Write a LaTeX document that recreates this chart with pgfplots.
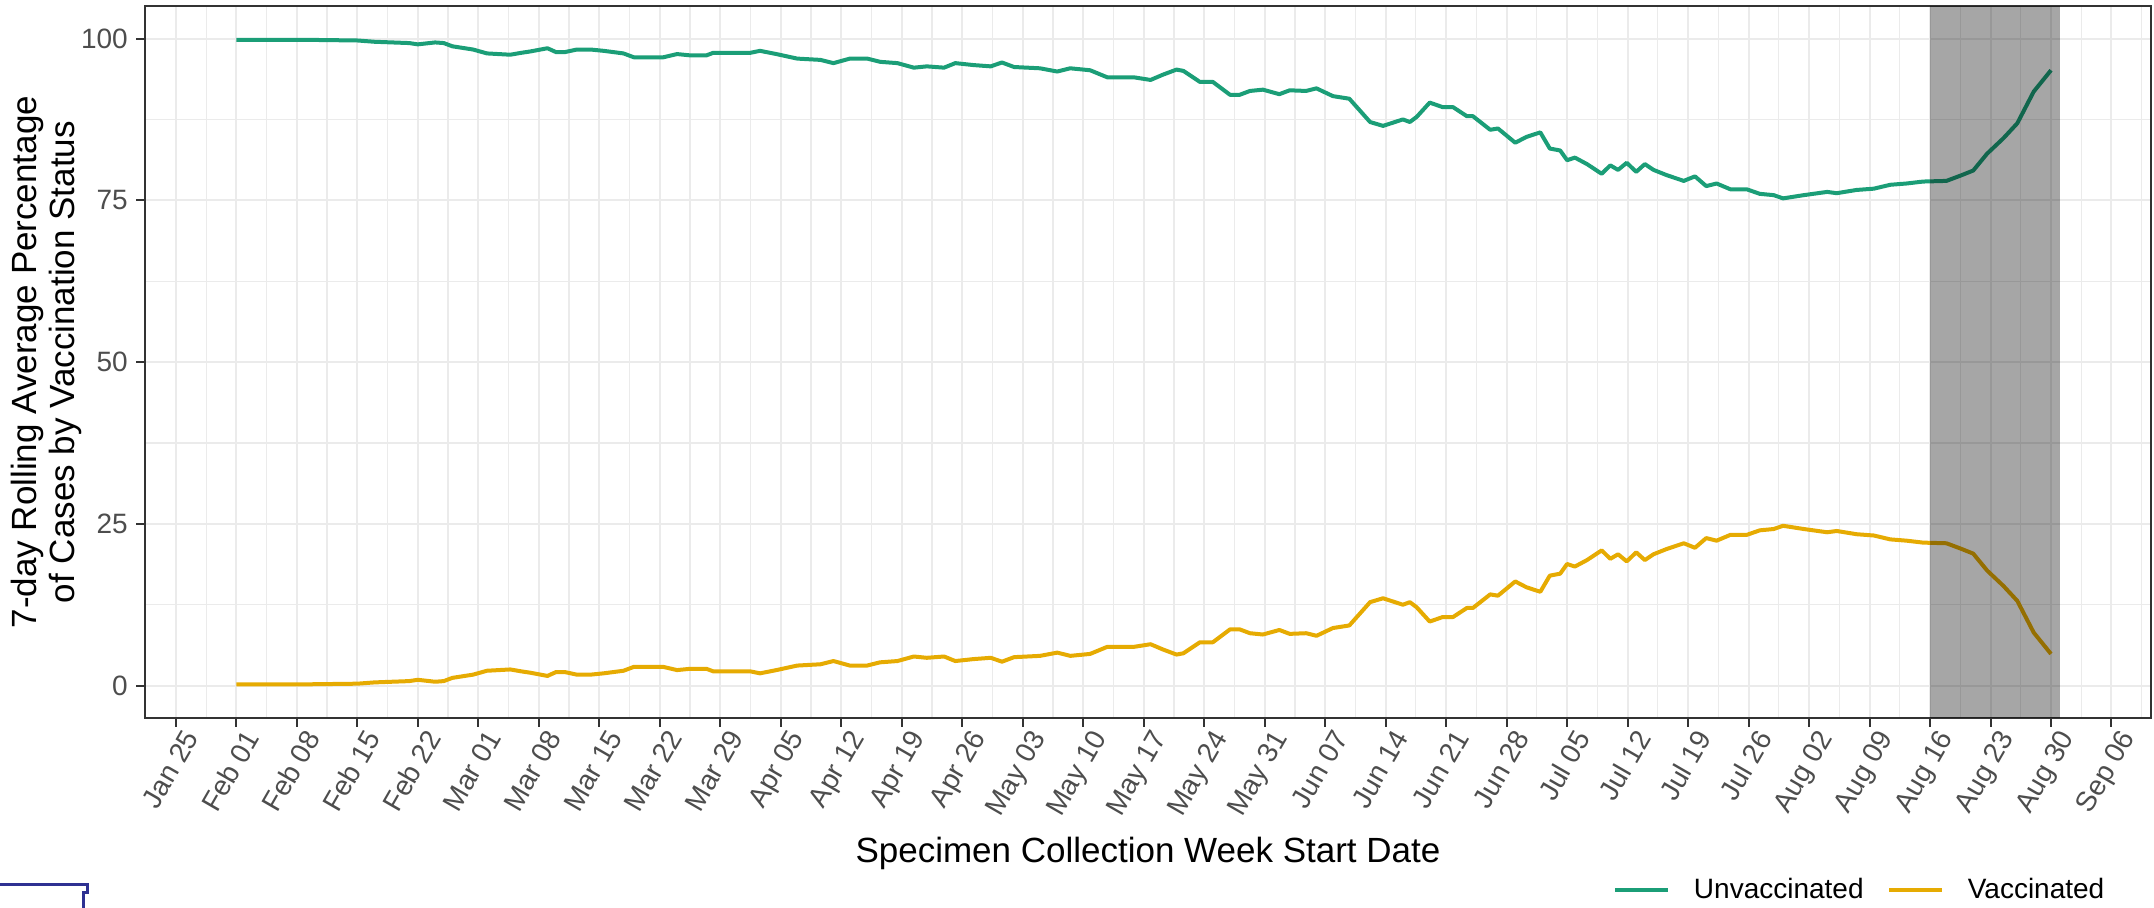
\documentclass[border=0pt]{standalone}
\usepackage{fontspec}
\setmainfont{Liberation Sans}
\usepackage{pgfplots}
\usepackage{pgfplotstable}
\pgfplotsset{compat=1.18}
\definecolor{unvac}{HTML}{1B9E77}
\definecolor{vac}{HTML}{E6AB02}
\definecolor{gridc}{HTML}{EBEBEB}
\definecolor{framec}{HTML}{333333}
\definecolor{ticklab}{HTML}{4D4D4D}
\definecolor{navyline}{HTML}{2E3192}

\pgfplotstableread{
day unvac vac
32 99.8 0.2
40 99.8 0.2
46 99.7 0.3
48 99.5 0.5
52 99.3 0.7
53 99.1 0.9
55 99.4 0.6
56 99.3 0.7
57 98.8 1.2
59.4 98.3 1.7
61 97.7 2.3
63.7 97.5 2.5
65 97.8 2.2
66 98.0 2.0
68 98.5 1.5
69 97.9 2.1
70 97.9 2.1
71.4 98.3 1.7
73 98.3 1.7
74.5 98.1 1.9
76.8 97.7 2.3
78 97.1 2.9
81.4 97.1 2.9
83 97.6 2.4
84.5 97.4 2.6
86.4 97.4 2.6
87.2 97.8 2.2
91.5 97.8 2.2
92.6 98.1 1.9
94.5 97.6 2.4
96.9 96.9 3.1
99.6 96.7 3.3
101.1 96.2 3.8
103 96.9 3.1
105 96.9 3.1
106.5 96.4 3.6
108.5 96.2 3.8
110.4 95.5 4.5
111.9 95.7 4.3
113.9 95.5 4.5
115.2 96.2 3.8
117.3 95.9 4.1
119.3 95.7 4.3
120.6 96.3 3.7
122 95.6 4.4
125 95.4 4.6
127 94.9 5.1
128.5 95.4 4.6
130.8 95.1 4.9
132.8 94.0 6.0
135.9 94.0 6.0
137.8 93.6 6.4
139.2 94.4 5.6
140.8 95.2 4.8
141.6 95.0 5.0
143.5 93.3 6.7
145 93.3 6.7
147 91.3 8.7
148.1 91.3 8.7
149.3 91.9 8.1
150.8 92.1 7.9
152.7 91.4 8.6
153.9 92.0 8.0
155.8 91.9 8.1
157 92.3 7.7
158.9 91.1 8.9
160.8 90.7 9.3
163.2 87.1 12.9
164.7 86.5 13.5
167 87.5 12.5
167.8 87.1 12.9
168.6 87.9 12.1
170.1 90.1 9.9
171.6 89.4 10.6
172.8 89.4 10.6
174.4 88.0 12.0
175.1 88.0 12.0
177.1 85.9 14.1
178 86.1 13.9
180 83.9 16.1
181.3 84.8 15.2
182.9 85.5 14.5
184 83.0 17.0
185.2 82.7 17.3
186 81.2 18.8
186.9 81.6 18.4
188.3 80.6 19.4
190 79.1 20.9
191 80.4 19.6
191.9 79.7 20.3
192.9 80.8 19.2
194 79.4 20.6
195 80.6 19.4
196 79.7 20.3
197.5 78.9 21.1
199.5 78.0 22.0
200.8 78.7 21.3
202.1 77.2 22.8
203.3 77.6 22.4
204.9 76.7 23.3
206.8 76.7 23.3
208.3 76.0 24.0
209.9 75.8 24.2
211 75.3 24.7
213.4 75.8 24.2
216.1 76.3 23.7
217.2 76.1 23.9
219.5 76.6 23.4
221.5 76.8 23.2
223.4 77.4 22.6
225.3 77.6 22.4
227.2 77.9 22.1
229.9 78.0 22.0
231.5 78.8 21.2
233 79.6 20.4
234.6 82.2 17.8
236.5 84.6 15.4
238.1 86.9 13.1
240 91.8 8.2
242 95.1 4.9
}\datatable

\begin{document}
\begin{tikzpicture}
\useasboundingbox (0,0) rectangle (1077pt,454pt);
\begin{axis}[
  at={(72.6pt,95pt)}, anchor=south west, scale only axis,
  width=1002.8pt, height=355.9pt,
  xmin=21.45, xmax=253.55, ymin=-5, ymax=105,
  axis line style={framec, line width=1pt},
  xtick={25,32,...,249},
  xticklabels={Jan 25, Feb 01, Feb 08, Feb 15, Feb 22, Mar 01, Mar 08, Mar 15, Mar 22, Mar 29, Apr 05, Apr 12, Apr 19, Apr 26, May 03, May 10, May 17, May 24, May 31, Jun 07, Jun 14, Jun 21, Jun 28, Jul 05, Jul 12, Jul 19, Jul 26, Aug 02, Aug 09, Aug 16, Aug 23, Aug 30, Sep 06},
  minor xtick={21.5,28.5,...,252.5},
  ytick={0,25,50,75,100},
  minor ytick={12.5,37.5,62.5,87.5},
  grid=both,
  major grid style={gridc, line width=1pt},
  minor grid style={gridc, line width=0.6pt},
  tick align=outside, major tick length=4.5pt, minor tick length=0pt,
  xtick pos=lower, ytick pos=lower,
  major tick style={framec, line width=1pt},
  /pgf/number format/assume math mode=true,
  tick label style={font=\fontsize{14}{16}\selectfont, text=ticklab},
  xticklabel style={rotate=60, anchor=north east, inner sep=1pt, yshift=-2pt, xshift=2.5pt},
  yticklabel style={inner sep=1pt, xshift=-3pt},
  xlabel={Specimen Collection Week Start Date},
  xlabel style={font=\fontsize{17.5}{20}\selectfont, at={(axis description cs:0.5,0)}, anchor=center, yshift=-67.5pt},
  ylabel={7-day Rolling Average Percentage\\of Cases by Vaccination Status},
  ylabel style={align=center, font=\fontsize{17.5}{19}\selectfont, yshift=-5pt},
  legend columns=2,
  legend style={draw=none, fill=none, at={(axis description cs:0.979,-0.2416)}, anchor=east, inner sep=0pt,
    font=\fontsize{14}{16}\selectfont, /tikz/every even column/.append style={column sep=9.8pt}},
  legend image code/.code={\draw[#1, line width=2pt] (0pt,0pt) -- (26.5pt,0pt); \path (36.3pt,0pt);},
]
\addplot[unvac, line width=2pt, line join=round] table[x=day, y=unvac] {\datatable};
\addlegendentry{Unvaccinated}
\addplot[vac, line width=2pt, line join=round] table[x=day, y=vac] {\datatable};
\addlegendentry{Vaccinated}
\addplot[draw=none, fill=black, fill opacity=0.35, forget plot] coordinates {(228,-10) (243,-10) (243,110) (228,110)} -- cycle;
\end{axis}
\draw[navyline, line width=1.5pt] (0pt,11.5pt) -- (43.5pt,11.5pt) -- (43.5pt,7.5pt) -- (41.5pt,7.5pt) -- (41.5pt,-1pt);
\end{tikzpicture}
\end{document}
